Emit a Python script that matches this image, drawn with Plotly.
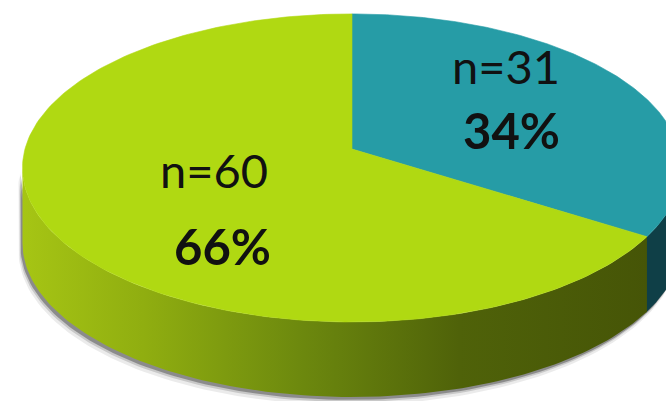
import numpy as np
import plotly.graph_objects as go

# ---- data ----
labels = ["A", "B"]
counts = [31, 60]
pct_labels = ["34%", "66%"]
top_colors = ["#269ca6", "#b0d912"]
side_colors = ["#0f3f47", None]

# ---- geometry (layout) ----
W, H = 666, 401
CX, CY = 352, 149      # projected pie centre (vertex)
R, S, K = 327, 151.7, 0.123   # horizontal radius, vertical radius, perspective
DEPTH = 75

def proj(phi_deg):
    phi = np.radians(phi_deg)
    u, v = np.sin(phi), np.cos(phi)
    d = 1 + K * v
    return CX + R * u / d, CY - S * v / d

total = sum(counts)
bounds = np.concatenate([[0], np.cumsum(counts) / total * 360])

fig = go.Figure()

# silhouette angles (max horizontal extent)
sil_r = np.degrees(np.arccos(-K))
sil_l = 360 - sil_r

def side_poly(a0, a1, dx=0, dy=0):
    ph = np.linspace(a0, a1, 120)
    xt, yt = proj(ph)
    xs = np.concatenate([xt, xt[::-1]]) + dx
    ys = np.concatenate([yt, (yt + DEPTH)[::-1]]) + dy
    return xs, ys

# shadow
for dx, dy, col in [(-4, 8, "rgba(0,0,0,0.08)"), (-3, 5, "rgba(0,0,0,0.15)"), (-2, 3, "rgba(0,0,0,0.3)")]:
    xs, ys = side_poly(sil_r, sil_l, dx, dy)
    fig.add_trace(go.Scatter(x=xs, y=ys, fill="toself", mode="lines",
                             line=dict(width=0), fillcolor=col, hoverinfo="skip"))

# sides: teal (right piece) and green (front)
a_split = bounds[1]
xs, ys = side_poly(sil_r, a_split + 0.5)
fig.add_trace(go.Scatter(x=xs, y=ys, fill="toself", mode="lines",
                         line=dict(width=0), fillcolor=side_colors[0], hoverinfo="skip"))
xs, ys = side_poly(a_split, sil_l)
fig.add_trace(go.Scatter(
    x=xs, y=ys, fill="toself", mode="lines", line=dict(width=0), hoverinfo="skip",
    fillgradient=dict(type="horizontal",
                      colorscale=[[0, "#a6c514"], [0.2, "#8fad10"], [0.45, "#6c880e"],
                                  [0.7, "#4f6209"], [1, "#465507"]])))

# top faces
for i in range(len(counts)):
    ph = np.linspace(bounds[i], bounds[i + 1], 200)
    xt, yt = proj(ph)
    xs = np.concatenate([[CX], xt, [CX]])
    ys = np.concatenate([[CY], yt, [CY]])
    fig.add_trace(go.Scatter(x=xs, y=ys, fill="toself", mode="lines",
                             line=dict(width=0.6, color=top_colors[i]),
                             fillcolor=top_colors[i], hoverinfo="skip"))

# labels
label_pos = [(506, 66, 511, 130), (214, 170, 222, 246)]
for i in range(len(counts)):
    nx, ny, px, py = label_pos[i]
    fig.add_annotation(x=nx, y=ny, text=f"n={counts[i]}", showarrow=False,
                       font=dict(family="Lato", size=47, color="#111111"))
    fig.add_annotation(x=px, y=py, text=f"<b>{pct_labels[i]}</b>", showarrow=False,
                       font=dict(family="Lato", size=49, color="#111111"))

fig.update_layout(
    width=W, height=H, margin=dict(l=0, r=0, t=0, b=0),
    paper_bgcolor="white", plot_bgcolor="white", showlegend=False,
    xaxis=dict(range=[0, W], visible=False, fixedrange=True),
    yaxis=dict(range=[H, 0], visible=False, fixedrange=True),
)
fig.write_html("out.html")
